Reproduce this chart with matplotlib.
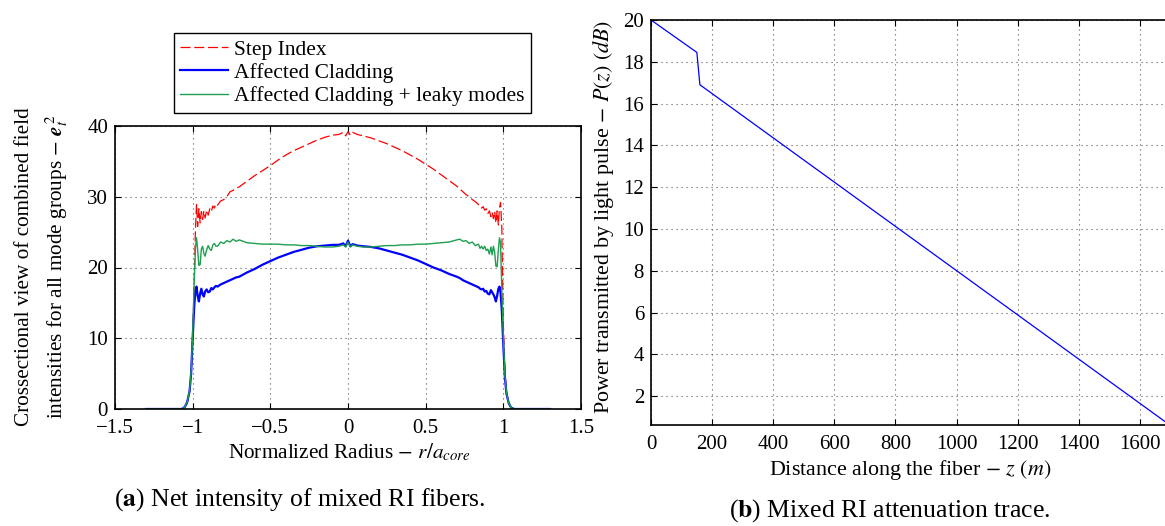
import matplotlib
matplotlib.use("Agg")
import matplotlib.pyplot as plt

# ---- data ----
radius = [-1.30, -1.07, -1.05, -1.035, -1.02, -1.01, -1.00, -0.99, -0.982, -0.975,
          -0.968, -0.96, -0.952, -0.944, -0.936, -0.928, -0.92, -0.91, -0.90, -0.89,
          -0.88, -0.87, -0.86, -0.85, -0.84, -0.82, -0.80, -0.78, -0.76, -0.74,
          -0.72, -0.70, -0.65, -0.60, -0.55, -0.50, -0.45, -0.40, -0.35, -0.30,
          -0.25, -0.20, -0.15, -0.10, -0.06, -0.03, -0.015, 0.0,
          0.015, 0.03, 0.06, 0.10, 0.15, 0.20, 0.25, 0.30, 0.35, 0.40,
          0.45, 0.50, 0.55, 0.60, 0.65, 0.70, 0.72, 0.74, 0.76, 0.78,
          0.80, 0.82, 0.84, 0.85, 0.86, 0.87, 0.88, 0.89, 0.90, 0.91,
          0.92, 0.928, 0.936, 0.944, 0.952, 0.96, 0.968, 0.975, 0.982, 0.99,
          1.00, 1.01, 1.02, 1.035, 1.05, 1.07, 1.30]

step_index = [0, 0, 0.2, 0.8, 2.5, 5, 10, 18, 25.5, 29.0,
              25.8, 28.3, 26.3, 27.9, 26.8, 28.0, 27.0, 28.1, 27.4, 28.3,
              27.9, 28.7, 28.4, 29.0, 28.8, 29.4, 29.6, 30.0, 30.7, 30.9,
              31.2, 31.4, 32.2, 33.0, 33.7, 34.4, 35.2, 35.9, 36.5, 37.0,
              37.5, 38.0, 38.4, 38.7, 38.8, 39.1, 38.6, 39.2,
              38.7, 39.1, 38.8, 38.6, 38.3, 37.9, 37.5, 37.0, 36.5, 35.9,
              35.3, 34.6, 33.9, 33.1, 32.3, 31.5, 31.1, 30.7, 30.3, 30.0,
              29.6, 29.3, 28.9, 28.8, 28.4, 28.6, 28.1, 28.3, 27.6, 28.0,
              27.2, 27.8, 26.9, 27.9, 26.3, 28.0, 26.0, 28.4, 29.2, 25.8,
              12, 5.5, 2.5, 0.8, 0.2, 0, 0]

affected = [0, 0, 0.3, 1.0, 2.5, 5, 10, 14.5, 16.8, 17.3,
            16.0, 15.2, 16.3, 17.0, 16.2, 15.9, 16.6, 16.9, 16.5, 16.6,
            17.1, 16.9, 17.2, 17.4, 17.3, 17.6, 17.8, 18.0, 18.2, 18.4,
            18.6, 18.7, 19.3, 19.8, 20.4, 20.9, 21.4, 21.8, 22.2, 22.5,
            22.8, 23.0, 23.1, 23.2, 23.2, 23.4, 23.0, 23.8,
            23.0, 23.3, 23.1, 23.0, 22.9, 22.7, 22.4, 22.1, 21.8, 21.4,
            21.0, 20.5, 20.0, 19.6, 19.1, 18.7, 18.5, 18.2, 18.0, 17.8,
            17.6, 17.4, 17.2, 17.0, 16.9, 17.0, 16.6, 16.7, 16.3, 16.2,
            16.8, 16.5, 16.2, 15.8, 15.2, 16.0, 17.0, 17.3, 16.5, 14.0,
            9, 4.5, 2.2, 0.8, 0.2, 0, 0]

affected_leaky = [0, 0, 0.3, 1.0, 2.6, 5.2, 10.5, 18, 22.8, 24.2,
                  22.5, 20.3, 20.4, 22.6, 23.0, 22.0, 21.6, 22.5, 23.1, 22.6,
                  22.4, 23.2, 23.4, 23.0, 23.0, 23.6, 23.4, 23.8, 23.6, 24.0,
                  23.7, 23.9, 23.5, 23.4, 23.3, 23.3, 23.3, 23.2, 23.2, 23.1,
                  23.1, 23.0, 22.9, 22.9, 23.0, 23.2, 22.9, 23.6,
                  22.9, 23.2, 23.0, 22.9, 22.9, 23.0, 23.1, 23.1, 23.2, 23.2,
                  23.3, 23.3, 23.4, 23.5, 23.6, 23.9, 24.0, 23.7, 23.8, 23.4,
                  23.6, 23.1, 23.3, 22.7, 23.0, 22.6, 23.0, 22.4, 22.6, 21.9,
                  22.9, 21.8, 23.0, 22.2, 20.2, 20.1, 22.5, 24.2, 23.5, 17,
                  10, 4.8, 2.3, 0.8, 0.2, 0, 0]

radius_ticks = [-1.5, -1, -0.5, 0, 0.5, 1, 1.5]
radius_ticklabels = ["\u22121.5", "\u22121", "\u22120.5", "0", "0.5", "1", "1.5"]
intensity_ticks = [0, 10, 20, 30, 40]

distance_m = [0, 150, 160, 1690]
power_db = [20.0, 18.45, 16.9, 0.7]
distance_ticks = [0, 200, 400, 600, 800, 1000, 1200, 1400, 1600]
power_ticks = [2, 4, 6, 8, 10, 12, 14, 16, 18, 20]

# ---- style ----
plt.rcParams["font.family"] = ["Liberation Serif", "DejaVu Serif"]
plt.rcParams["mathtext.fontset"] = "stix"
plt.rcParams["font.size"] = 15

W, H = 1165, 526
fig = plt.figure(figsize=(W / 100, H / 100), dpi=100)


def box(left, top, right, bottom):
    return [left / W, 1 - bottom / H, (right - left) / W, (bottom - top) / H]


def matlab_look(ax):
    ax.tick_params(direction="in", top=True, right=True, length=4, width=0.8,
                   labelsize=15)
    ax.tick_params(axis="x", pad=7)
    ax.tick_params(axis="y", pad=5)
    for s in ax.spines.values():
        s.set_linewidth(1.2)
    ax.grid(True, color="0.35", linestyle=(0, (1, 3.5)), linewidth=0.8)


# ---- (a) net intensity ----
ax1 = fig.add_axes(box(115, 126, 581, 409))
ax1.plot(radius, step_index, color="#ff0000", lw=0.9, dashes=(8, 3),
         label="Step Index")
ax1.plot(radius, affected, color="#0000ff", lw=1.6, label="Affected Cladding")
ax1.plot(radius, affected_leaky, color="#1e9e50", lw=1.0,
         label="Affected Cladding + leaky modes")
ax1.set_xlim(-1.5, 1.5)
ax1.set_ylim(0, 40)
ax1.set_xticks(radius_ticks)
ax1.set_xticklabels(radius_ticklabels)
ax1.set_yticks(intensity_ticks)
matlab_look(ax1)

leg = ax1.legend(loc="upper left", bbox_to_anchor=(174 / W, 1 - 33 / H),
                 bbox_transform=fig.transFigure, borderaxespad=0,
                 fancybox=False, edgecolor="black", framealpha=1,
                 fontsize=15.5, handlelength=2.2, handletextpad=0.3,
                 labelspacing=0.15, borderpad=0.3)
leg.get_frame().set_linewidth(1.0)

fig.text(349 / W, 1 - 452 / H, r"Normalized Radius $-$ $r/a_{core}$",
         ha="center", va="center", fontsize=15.3)
fig.text(25 / W, 1 - 267 / H, "Crossectional view of combined field",
         rotation=90, ha="center", va="center", fontsize=15.3)
fig.text(57 / W, 1 - 267 / H,
         r"intensities for all mode groups $-$ $\mathbfit{e}_t^{\,2}$",
         rotation=90, ha="center", va="center", fontsize=15.3)
fig.text(300 / W, 1 - 500 / H, r"($\mathbf{a}$) Net intensity of mixed RI fibers.",
         ha="center", va="center", fontsize=18.5)

# ---- (b) attenuation trace ----
ax2 = fig.add_axes(box(651, 20, 1172, 425))
ax2.plot(distance_m, power_db, color="#0000ff", lw=0.9)
ax2.set_xlim(0, 1705)
ax2.set_ylim(0.62, 20)
ax2.set_xticks(distance_ticks)
ax2.set_yticks(power_ticks)
matlab_look(ax2)

fig.text(910 / W, 1 - 470 / H, r"Distance along the fiber $-$ $z$ $(m)$",
         ha="center", va="center", fontsize=15.8)
fig.text(604 / W, 1 - 217 / H,
         r"Power transmitted by light pulse $-$ $P(z)$ $(dB)$",
         rotation=90, ha="center", va="center", fontsize=15.8)
fig.text(890 / W, 1 - 511 / H, r"($\mathbf{b}$) Mixed RI attenuation trace.",
         ha="center", va="center", fontsize=18.5)

fig.savefig("out.png", dpi=100)
